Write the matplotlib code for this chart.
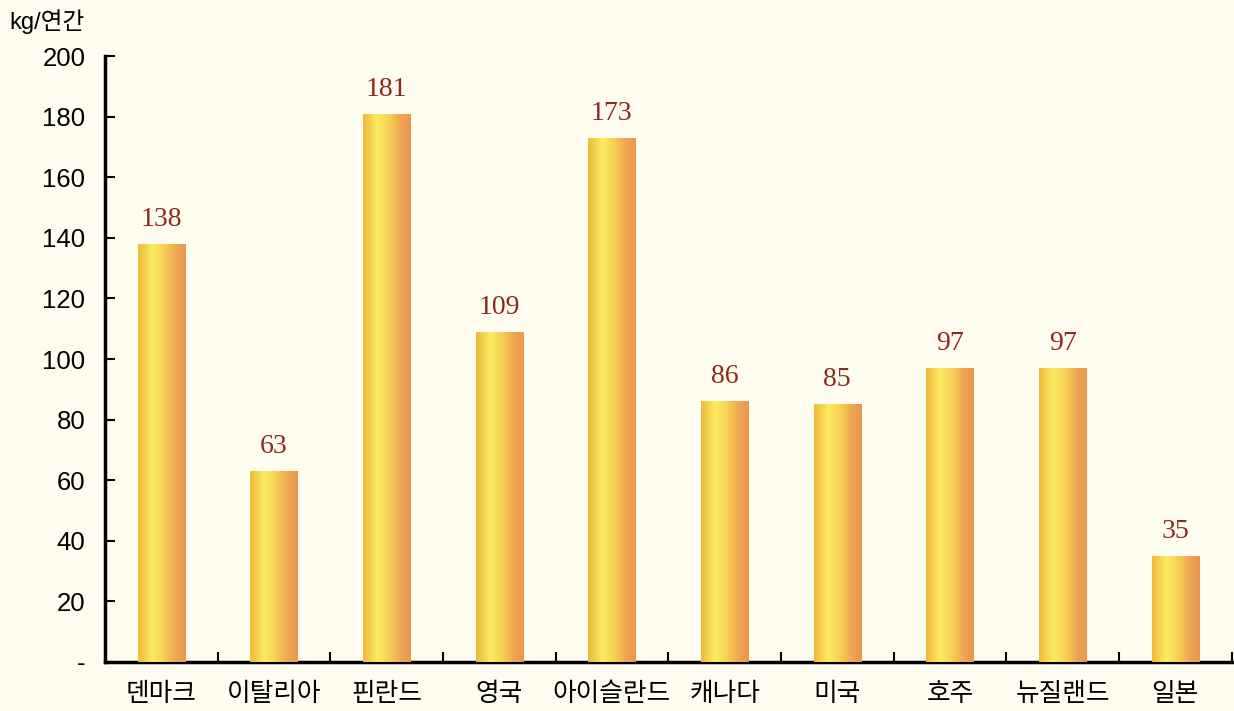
import numpy as np
import matplotlib
matplotlib.use("Agg")
import matplotlib.pyplot as plt
from matplotlib.colors import LinearSegmentedColormap

countries = ["덴마크", "이탈리아", "핀란드", "영국", "아이슬란드", "캐나다", "미국", "호주", "뉴질랜드", "일본"]
values = [138, 63, 181, 109, 173, 86, 85, 97, 97, 35]
yticks = [0, 20, 40, 60, 80, 100, 120, 140, 160, 180, 200]
ytick_labels = ["-", "20", "40", "60", "80", "100", "120", "140", "160", "180", "200"]

plt.rcParams["font.family"] = ["Liberation Sans", "Noto Sans CJK KR", "DejaVu Sans"]
BG = "#fffdf0"

fig = plt.figure(figsize=(12.34, 7.11), dpi=100, facecolor=BG)
ax = fig.add_axes([0.085, 0.069, 0.913, 0.852], facecolor=BG)

x = np.arange(len(countries))
bars = ax.bar(x, values, width=0.42, color="#f2c040", zorder=2)

# gradiente horizontal amarillo -> naranja dentro de cada barra
cmap = LinearSegmentedColormap.from_list(
    "oro", [(0, "#f0b83a"), (0.3, "#fbec62"), (0.55, "#f6cf55"), (0.8, "#eea553"), (1, "#e8974e")])
grad = np.linspace(0, 1, 256).reshape(1, -1)
for b in bars:
    x0, w, h = b.get_x(), b.get_width(), b.get_height()
    im = ax.imshow(grad, cmap=cmap, aspect="auto", extent=(x0, x0 + w, 0, h), zorder=3)
    im.set_clip_path(b)

for xi, v in zip(x, values):
    ax.text(xi, v + 4, str(v), ha="center", va="bottom", fontsize=20,
            family="Liberation Serif", color="#8a2a1c", zorder=4)

ax.set_xlim(-0.5, len(countries) - 0.5)
ax.set_ylim(0, 200)
ax.set_yticks(yticks)
ax.set_yticklabels(ytick_labels, fontsize=18.5)
ax.tick_params(axis="y", direction="in", length=7, width=1.5, pad=14)
ax.set_xticks(x)
ax.set_xticklabels(countries, fontsize=18.5, family=["Noto Sans CJK KR", "DejaVu Sans"])
ax.tick_params(axis="x", length=0, pad=14)
# marcas entre categorías
ax.set_xticks(np.arange(len(countries)) + 0.5, minor=True)
ax.tick_params(axis="x", which="minor", direction="in", length=7, width=1.5)

for s in ["top", "right"]:
    ax.spines[s].set_visible(False)
ax.spines["left"].set_linewidth(2.5)
ax.spines["bottom"].set_linewidth(2.5)

fig.text(0.008, 0.97, "kg/연간", fontsize=17, family=["Liberation Sans", "Noto Sans CJK KR"], va="center")

fig.savefig("out.png", dpi=100, facecolor=BG)
